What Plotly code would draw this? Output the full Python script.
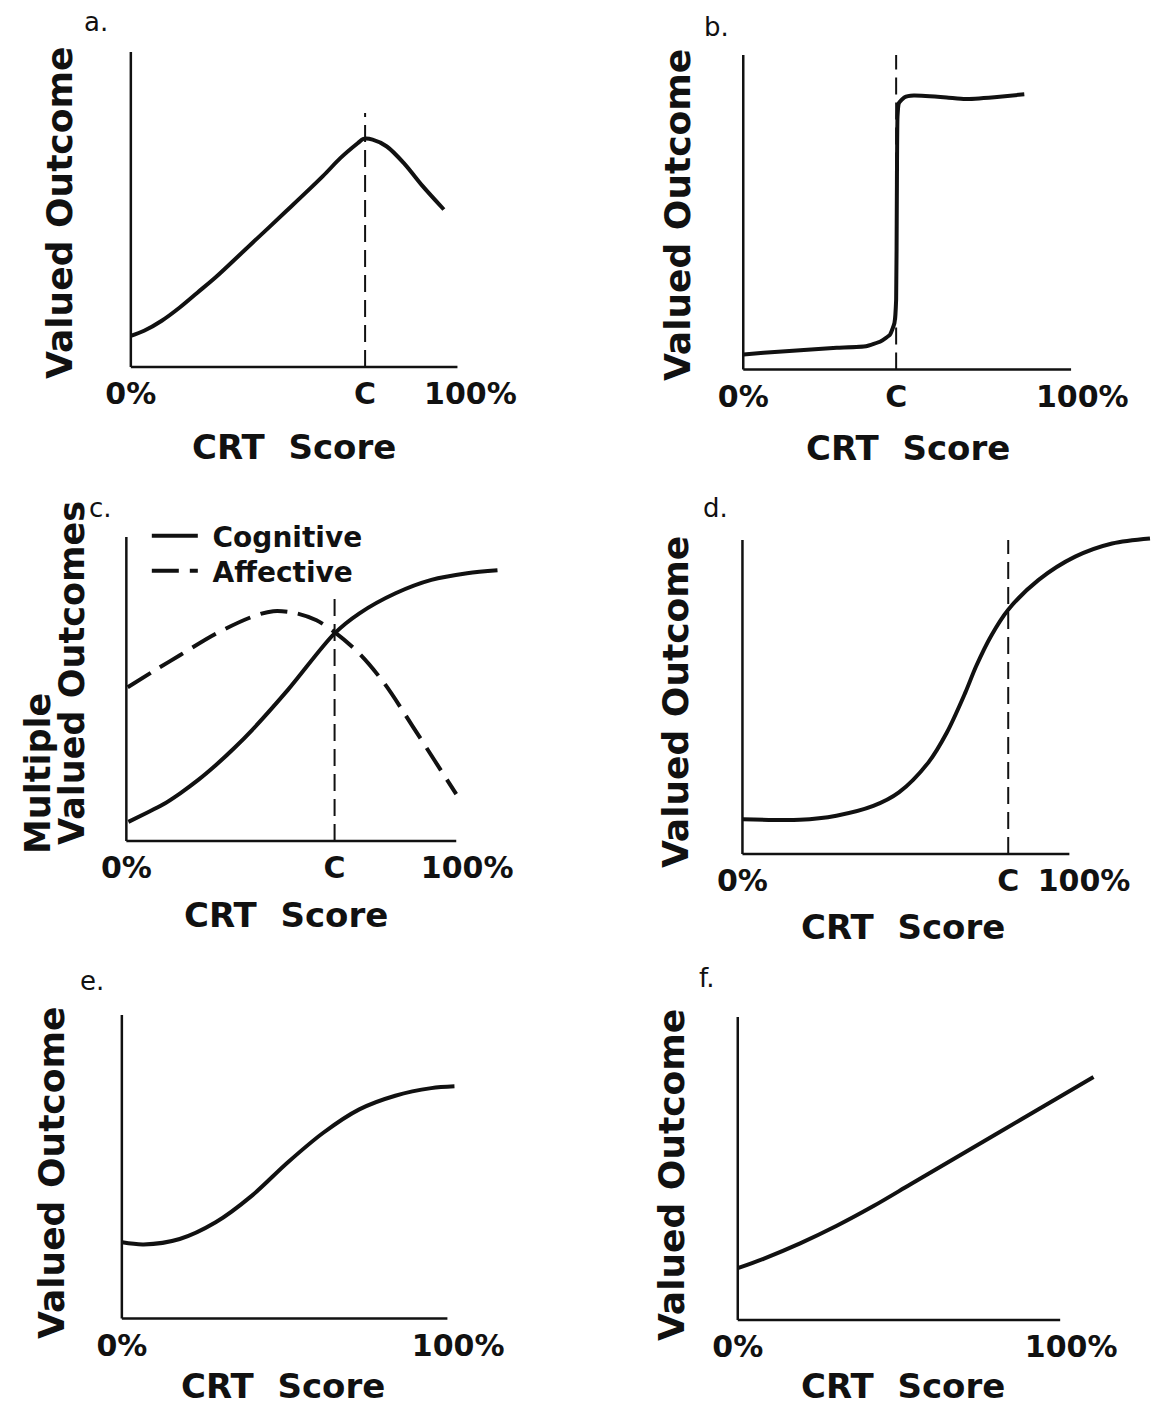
import plotly.graph_objects as go

W, H = 1157, 1409

# ---------------- data (x: CRT score %, y: valued outcome, 0-100 scale) ----------------
a_x = [0, 3.9, 9.1, 14.4, 19.6, 24.9, 35.3, 45.8, 56.5, 61.7, 66.9, 68.5, 71.2, 75.4, 80.6, 85.9, 92.2]
a_y = [9.9, 11.5, 14.7, 18.9, 23.6, 28.4, 38.9, 49.5, 60.5, 66.3, 71.1, 72.4, 72.2, 70.0, 64.5, 57.5, 50.0]
a_cut = 69.0
a_cut_top = 80.6

b_x = [0.1, 6.0, 16.8, 27.6, 36.2, 40.6, 43.3, 44.6, 45.1, 45.3, 45.5, 45.9, 47.6, 50.3, 60.0, 65.4, 74.1, 82.9]
b_y = [4.8, 5.3, 6.1, 6.9, 7.4, 9.0, 11.1, 14.8, 22.2, 54.0, 80.4, 84.7, 86.6, 87.1, 86.5, 86.0, 86.6, 87.5]
b_cut = 45.1
b_cut_top = 100

c_cog_x = [0.6, 5.3, 10.6, 15.8, 21.1, 26.3, 31.6, 36.9, 47.4, 61.1, 68.4, 79.0, 89.5, 100.0, 108.9]
c_cog_y = [6.3, 8.9, 11.9, 15.7, 20.1, 25.0, 30.5, 36.5, 49.7, 68.3, 74.9, 81.5, 85.9, 88.1, 89.1]
c_aff_x = [0.4, 8.3, 15.7, 26.3, 36.8, 43.1, 49.5, 55.8, 61.1, 68.4, 75.8, 84.2, 90.5, 96.8]
c_aff_y = [50.6, 56.1, 61.1, 68.2, 73.7, 75.6, 75.0, 72.6, 68.7, 61.6, 51.7, 37.4, 26.4, 15.4]
c_cut = 61.1
c_cut_top = 80.9

d_x = [0.1, 16.8, 27.5, 38.3, 45.8, 54.4, 59.8, 65.2, 68.4, 72.7, 77.8, 86.7, 97.4, 108.2, 119.3]
d_y = [11.1, 10.9, 12.2, 15.3, 19.6, 29.1, 38.6, 51.3, 59.8, 69.3, 77.8, 87.3, 94.7, 98.9, 100.5]
d_cut = 77.8
d_cut_top = 100

e_x = [0.1, 6.5, 17.2, 27.9, 38.6, 49.3, 59.9, 70.6, 81.3, 92.0, 98.9]
e_y = [25.1, 24.4, 26.2, 31.7, 40.4, 51.4, 61.2, 68.9, 73.4, 75.9, 76.5]

f_x = [0.0, 7.7, 18.7, 29.7, 40.7, 51.7, 62.7, 73.7, 84.7, 95.7, 106.7]
f_y = [17.1, 20.2, 25.3, 31.1, 37.6, 44.7, 51.8, 58.9, 66.0, 73.1, 80.2]

ticks_cut = ["0%", "C", "100%"]
ticks_plain = ["0%", "100%"]
panel_letters = ["a.", "b.", "c.", "d.", "e.", "f."]
x_title = "CRT\u00a0\u00a0Score"
y_title = "Valued\u00a0Outcome"
legend_names = ["Cognitive", "Affective"]

# ---------------- layout geometry (target picture pixels) ----------------
geo = [
    dict(px0=130, px100=470, py0=367, py100=52, xend=96.2),
    dict(px0=743.3, px100=1082.8, py0=369.5, py100=55, xend=96.7),
    dict(px0=125.5, px100=466.8, py0=841, py100=537, xend=96.8),
    dict(px0=742.5, px100=1084.6, py0=854, py100=540, xend=95.7),
    dict(px0=121, px100=457.8, py0=1318.5, py100=1015, xend=96.8),
    dict(px0=737.8, px100=1071.7, py0=1320, py100=1017, xend=96.7),
]
XR = [-2, 121]
YR = [-2, 105]

FONT = "DejaVu Sans"
BLACK = "#111111"

# observed mapping of page x to picture x in the capture: pic = 18 + 0.985 * page
CAP_X0, CAP_K = 18.0, 0.985


def px_x(p):
    return ((p - CAP_X0) / CAP_K) / W


def px_y(p):
    return 1 - p / H


fig = go.Figure()
layout = {}
shapes = []

cuts = [(a_cut, a_cut_top), (b_cut, b_cut_top), (c_cut, c_cut_top), (d_cut, d_cut_top), None, None]

for i, g in enumerate(geo, start=1):
    sx = (g["px100"] - g["px0"]) / 100.0
    sy = (g["py0"] - g["py100"]) / 100.0
    dom_x = [max(0.0, px_x(g["px0"] + XR[0] * sx)), min(1.0, px_x(g["px0"] + XR[1] * sx))]
    dom_y = [px_y(g["py0"] - YR[0] * sy), px_y(g["py0"] - YR[1] * sy)]
    suf = "" if i == 1 else str(i)
    cut = cuts[i - 1]
    if cut is not None:
        tv = [0, cut[0], 100]
        tt = ticks_cut
    else:
        tv = [0, 100]
        tt = ticks_plain
    layout["xaxis" + suf] = dict(
        domain=dom_x, range=XR, anchor="y" + suf, showgrid=False, zeroline=False,
        showline=False, ticks="", tickvals=tv, ticktext=tt, fixedrange=True,
        tickfont=dict(family=FONT, size=30, color=BLACK, weight="bold"),
        ticklabelstandoff=0,
    )
    layout["yaxis" + suf] = dict(
        domain=dom_y, range=YR, anchor="x" + suf, showgrid=False, zeroline=False,
        showline=False, showticklabels=False, ticks="", fixedrange=True,
    )
    xr, yr = "x" + suf, "y" + suf
    shapes.append(dict(type="line", xref=xr, yref=yr, x0=0, x1=0, y0=0, y1=100,
                       line=dict(color=BLACK, width=2.5)))
    shapes.append(dict(type="line", xref=xr, yref=yr, x0=0, x1=g["xend"], y0=0, y1=0,
                       line=dict(color=BLACK, width=2.5)))
    if cut is not None:
        shapes.append(dict(type="line", xref=xr, yref=yr, x0=cut[0], x1=cut[0], y0=0, y1=cut[1],
                           line=dict(color=BLACK, width=2, dash="17px,8px")))

curve = dict(color=BLACK, width=4, shape="spline", smoothing=0.9)


def add(x, y, n, **kw):
    suf = "" if n == 1 else str(n)
    line = dict(curve)
    line.update(kw.pop("line", {}))
    fig.add_trace(go.Scatter(x=x, y=y, mode="lines", line=line, xaxis="x" + suf, yaxis="y" + suf,
                             hoverinfo="skip", showlegend=kw.pop("showlegend", False), **kw))


add(a_x, a_y, 1)
add(b_x, b_y, 2, line=dict(smoothing=0.4))
add(c_cog_x, c_cog_y, 3, showlegend=True, name="\u00a0" + legend_names[0], legend="legend")
add(c_aff_x, c_aff_y, 3, showlegend=True, name="\u00a0" + legend_names[1], legend="legend2",
    line=dict(dash="27px,11px"))
add(d_x, d_y, 4)
add(e_x, e_y, 5)
add(f_x, f_y, 6)

ann = []


def text(t, x, y, size, bold=True, angle=0):
    ann.append(dict(text=t, x=px_x(x), y=px_y(y), xref="paper", yref="paper",
                    xanchor="center", yanchor="middle", showarrow=False, textangle=angle,
                    font=dict(family=FONT, size=size, color=BLACK, weight="bold" if bold else "normal")))


# panel letters
for lab, (x, y) in zip(panel_letters, [(95, 22), (717, 27), (100, 508), (716, 508), (91, 981), (707, 978)]):
    text(lab, x, y, 26, bold=False)

# x titles
for (x, y) in [(293, 447), (908, 448), (285, 915), (903, 927), (282, 1386), (903, 1386)]:
    text(x_title, x, y, 34)

# y titles
for (x, y) in [(58, 213), (678, 215), (675, 702), (50, 1173), (671, 1175)]:
    text(y_title, x, y, 36, angle=-90)
text("Multiple", 37, 773, 35, angle=-90)
text("Valued\u00a0Outcomes", 71, 673, 35, angle=-90)

leg_common = dict(xanchor="left", yanchor="top", bgcolor="rgba(0,0,0,0)", borderwidth=0,
                  itemwidth=46, font=dict(family=FONT, size=28, color=BLACK, weight="bold"),
                  tracegroupgap=0, itemclick=False, itemdoubleclick=False)

layout.update(
    width=W, height=H, margin=dict(l=0, r=0, t=0, b=0),
    paper_bgcolor="white", plot_bgcolor="rgba(0,0,0,0)",
    shapes=shapes, annotations=ann,
    legend=dict(x=px_x(146), y=px_y(511), **leg_common),
    legend2=dict(x=px_x(146), y=px_y(546), **leg_common),
    showlegend=True,
)
fig.update_layout(**layout)
fig.write_html("out.html", config={"displayModeBar": False},
               post_script="document.body.style.margin='0';document.body.style.overflow='hidden';")
